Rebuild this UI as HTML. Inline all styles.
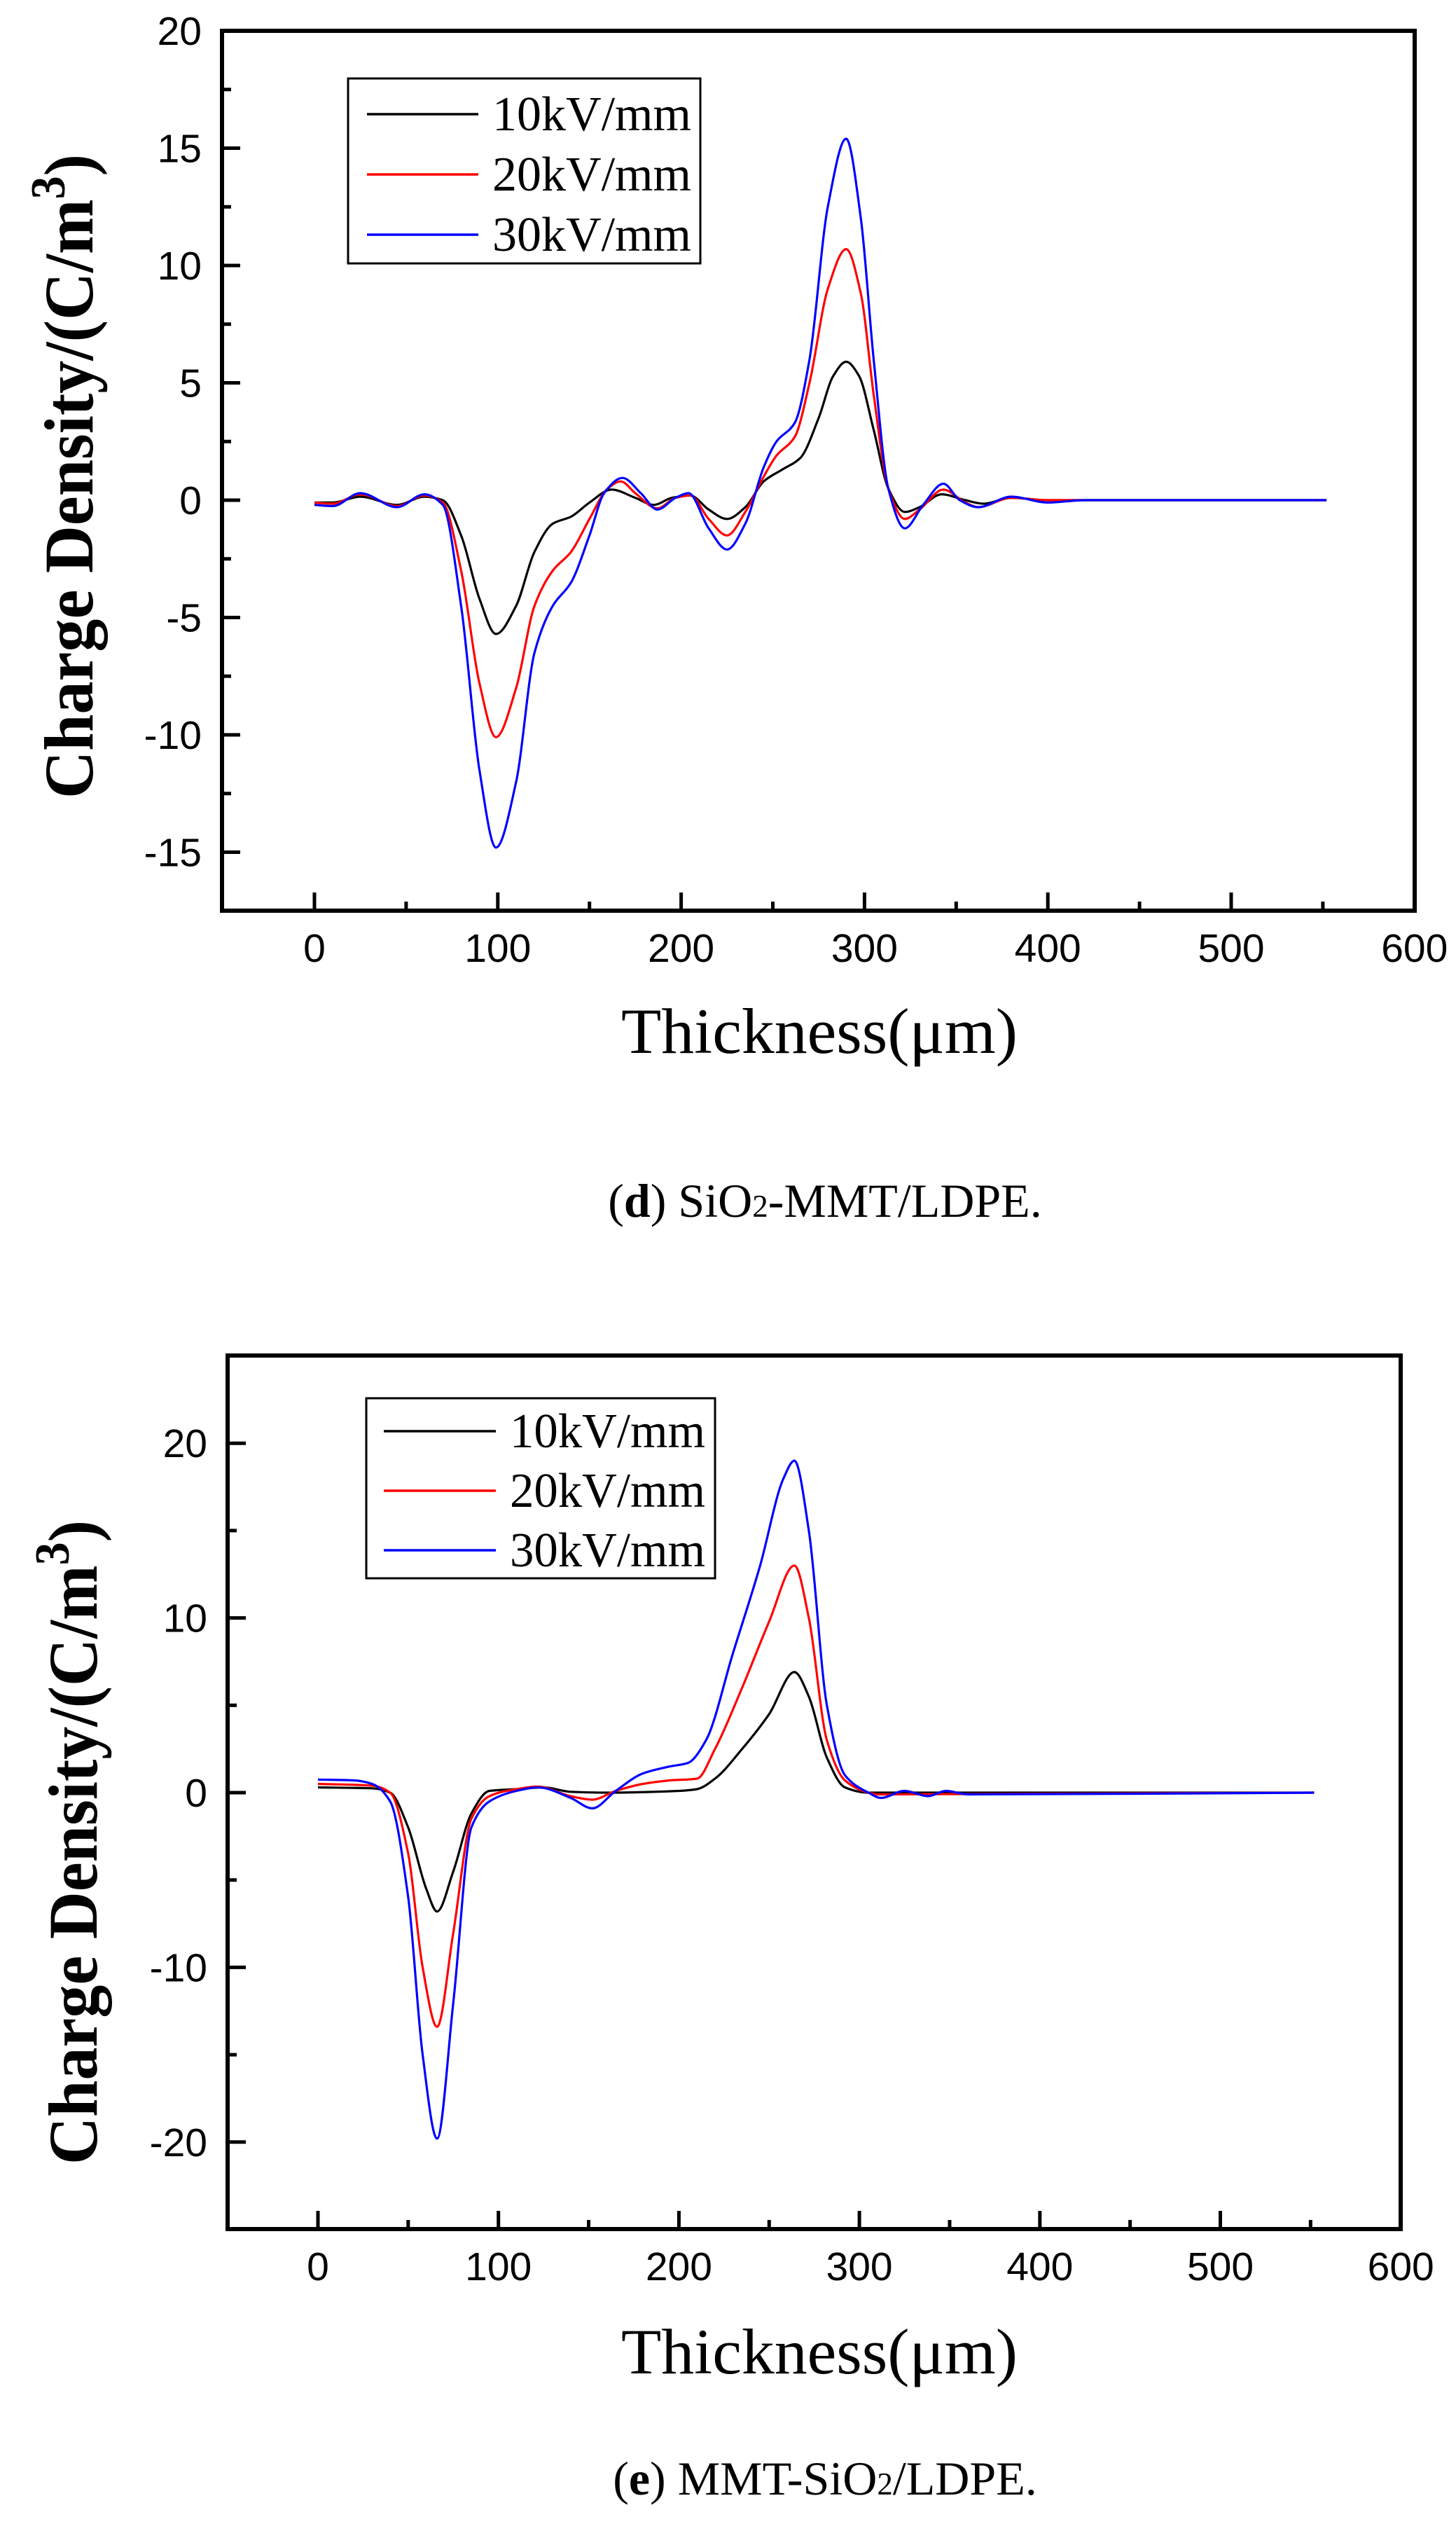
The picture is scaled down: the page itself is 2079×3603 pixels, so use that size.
<!DOCTYPE html>
<html><head><meta charset="utf-8"><style>
html,body{margin:0;padding:0;background:#fff;}
svg{display:block;}
</style></head><body>
<svg id="s" xmlns="http://www.w3.org/2000/svg" width="2079" height="3603" viewBox="0 0 2079 3603">
<rect width="2079" height="3603" fill="#fff"/>
<text transform="translate(132,680) rotate(-90)" font-family="Liberation Serif, serif" font-weight="bold" font-size="100" text-anchor="middle" textLength="920" lengthAdjust="spacingAndGlyphs">Charge Density/(C/m<tspan dy="-40" font-size="70">3</tspan><tspan dy="40">)</tspan></text>
<text transform="translate(138,2630) rotate(-90)" font-family="Liberation Serif, serif" font-weight="bold" font-size="100" text-anchor="middle" textLength="920" lengthAdjust="spacingAndGlyphs">Charge Density/(C/m<tspan dy="-40" font-size="70">3</tspan><tspan dy="40">)</tspan></text>
<text x="887" y="1503" font-family="Liberation Serif, serif" font-size="92" textLength="566" lengthAdjust="spacingAndGlyphs">Thickness(μm)</text>
<text x="887" y="3388" font-family="Liberation Serif, serif" font-size="92" textLength="566" lengthAdjust="spacingAndGlyphs">Thickness(μm)</text>
<text x="1178" y="1737" font-family="Liberation Serif, serif" font-size="68" text-anchor="middle">(<tspan font-weight="bold">d</tspan>) SiO<tspan font-size="45">2</tspan>-MMT/LDPE.</text>
<text x="1178" y="3561" font-family="Liberation Serif, serif" font-size="68" text-anchor="middle">(<tspan font-weight="bold">e</tspan>) MMT-SiO<tspan font-size="45">2</tspan>/LDPE.</text>
<g id="plots"></g>
</svg>
<script>
var NS="http://www.w3.org/2000/svg";
var g=document.getElementById("plots");
function el(n,a,t){var e=document.createElementNS(NS,n);for(var k in a)e.setAttribute(k,a[k]);if(t!==undefined)e.textContent=t;g.appendChild(e);return e;}
function mono(pts){
 var n=pts.length,dx=[],m=[],t=[];
 for(var i=0;i<n-1;i++){dx[i]=pts[i+1][0]-pts[i][0];m[i]=(pts[i+1][1]-pts[i][1])/dx[i];}
 t[0]=m[0];t[n-1]=m[n-2];
 for(var i=1;i<n-1;i++){ if(m[i-1]*m[i]<=0)t[i]=0; else {var w1=2*dx[i]+dx[i-1],w2=dx[i]+2*dx[i-1];t[i]=(w1+w2)/(w1/m[i-1]+w2/m[i]);}}
 var d="M"+pts[0][0].toFixed(1)+","+pts[0][1].toFixed(1);
 for(var i=0;i<n-1;i++){var h=dx[i]/3;
  d+=" C"+(pts[i][0]+h).toFixed(1)+","+(pts[i][1]+t[i]*h).toFixed(1)+" "+(pts[i+1][0]-h).toFixed(1)+","+(pts[i+1][1]-t[i+1]*h).toFixed(1)+" "+pts[i+1][0].toFixed(1)+","+pts[i+1][1].toFixed(1);}
 return d;
}
function plot(P){
 var X=function(v){return P.x0+v*P.px;},Y=function(v){return P.y0-v*P.py;};
 for(var v=0;v<=600;v+=50){var maj=v%100==0;el("line",{x1:X(v),x2:X(v),y1:P.bot,y2:P.bot-(maj?26:13),stroke:"#000","stroke-width":5});
  if(maj)el("text",{x:X(v),y:P.bot+73,"font-family":"Liberation Sans, Arial, sans-serif","font-size":57,"text-anchor":"middle"},String(v));}
 for(var v=P.ymin;v<=P.ymax+1e-6;v+=P.minor){var maj=Math.abs(v/P.major-Math.round(v/P.major))<1e-6;
  el("line",{x1:P.left,x2:P.left+(maj?26:13),y1:Y(v),y2:Y(v),stroke:"#000","stroke-width":5});
  if(maj)el("text",{x:P.left-29,y:Y(v)+20,"font-family":"Liberation Sans, Arial, sans-serif","font-size":57,"text-anchor":"end"},String(v));}
 P.series.forEach(function(s){var pts=s.d.map(function(p){return [X(p[0]),Y(p[1])];});
  el("path",{d:mono(pts),fill:"none",stroke:s.c,"stroke-width":3.2,"stroke-linejoin":"round"});});
 el("rect",{x:P.left,y:P.top,width:P.right-P.left,height:P.bot-P.top,fill:"none",stroke:"#000","stroke-width":6});
 var L=P.leg;el("rect",{x:L.x,y:L.y,width:L.w,height:L.h,fill:"#fff",stroke:"#000","stroke-width":3});
 ["10kV/mm","20kV/mm","30kV/mm"].forEach(function(t,i){var yy=L.ly[i];
  el("line",{x1:L.lx1,x2:L.lx2,y1:yy,y2:yy,stroke:P.series[i].c,"stroke-width":3.5});
  el("text",{x:L.tx,y:yy+23,"font-family":"Liberation Serif, serif","font-size":70,textLength:L.tw,lengthAdjust:"spacingAndGlyphs"},t);});
}
plot({x0:449,px:2.618,y0:714,py:33.5,left:317,right:2020,top:44,bot:1300,ymin:-17.5,ymax:20,minor:2.5,major:5,
 leg:{x:497,y:112,w:503,h:264,lx1:524,lx2:683,ly:[163,249,335],tx:703,tw:284},
 series:[
 {c:"#000",d:[[0,-0.1],[10,-0.1],[25,0.15],[45,-0.2],[60,0.15],[70,0],[80,-1.5],[90,-4.2],[99,-5.7],[110,-4.5],[120,-2.2],[130,-1.0],[140,-0.7],[150,-0.1],[162,0.45],[175,0.1],[185,-0.2],[195,0.1],[205,0.2],[215,-0.4],[225,-0.8],[235,-0.3],[245,0.8],[255,1.3],[265,1.8],[275,3.5],[283,5.3],[290,5.9],[297,5.3],[305,3],[313,0.5],[322,-0.5],[330,-0.3],[342,0.25],[355,0],[365,-0.15],[380,0.1],[400,0],[552,0]]},
 {c:"#f00",d:[[0,-0.1],[10,-0.15],[25,0.25],[45,-0.25],[60,0.2],[70,-0.1],[80,-3],[90,-7.8],[99,-10.1],[110,-8],[120,-4.5],[130,-3],[140,-2.2],[150,-0.8],[160,0.5],[167,0.8],[175,0.3],[187,-0.35],[197,0.1],[205,0.2],[215,-0.8],[225,-1.5],[235,-0.5],[245,1],[252,1.9],[262,2.7],[270,5],[280,9],[290,10.7],[298,8.8],[305,4.5],[313,0.5],[322,-0.8],[330,-0.4],[343,0.45],[355,-0.1],[362,-0.3],[380,0.1],[400,0],[552,0]]},
 {c:"#00f",d:[[0,-0.2],[10,-0.25],[25,0.3],[45,-0.3],[60,0.25],[70,-0.2],[80,-4.5],[90,-11.5],[99,-14.8],[110,-12],[120,-6.5],[130,-4.5],[140,-3.5],[150,-1.5],[158,0.3],[168,0.95],[178,0.3],[187,-0.4],[197,0.1],[204,0.3],[215,-1.2],[225,-2.1],[235,-1],[245,1.4],[252,2.5],[262,3.3],[270,6],[280,12.5],[290,15.4],[298,12],[305,6],[313,0.5],[322,-1.2],[332,-0.2],[343,0.7],[352,0],[362,-0.3],[380,0.15],[400,-0.1],[420,0],[552,0]]}
 ]});
plot({x0:454,px:2.577,y0:2559,py:24.94,left:325,right:2000,top:1935,bot:3182,ymin:-25,ymax:25,minor:5,major:10,
 leg:{x:523,y:1996,w:498,h:257,lx1:548,lx2:708,ly:[2043,2128,2213],tx:728,tw:279},
 series:[
 {c:"#000",d:[[0,0.3],[30,0.25],[40,0],[50,-2],[60,-5.5],[66,-6.8],[75,-4.5],[85,-1.2],[95,0.1],[110,0.2],[125,0.3],[140,0.05],[160,0],[200,0.1],[210,0.2],[220,0.8],[235,2.5],[250,4.5],[264,6.9],[272,5.5],[282,2],[292,0.3],[305,0],[552,0]]},
 {c:"#f00",d:[[0,0.5],[30,0.4],[40,0],[50,-3.5],[58,-10],[66,-13.4],[75,-8],[85,-1.5],[95,-0.2],[110,0.2],[122,0.35],[140,-0.2],[152,-0.4],[165,0.1],[180,0.5],[195,0.7],[210,0.8],[220,2.5],[235,6],[250,9.8],[264,13],[272,10],[282,3],[292,0.7],[305,0],[310,-0.1],[552,0]]},
 {c:"#00f",d:[[0,0.75],[20,0.7],[30,0.5],[40,-0.5],[50,-6],[58,-15],[66,-19.8],[75,-12],[85,-2],[95,-0.5],[110,0.1],[122,0.3],[140,-0.3],[152,-0.9],[165,0.1],[180,1.1],[195,1.5],[205,1.7],[215,3],[230,8],[245,13],[258,18],[264,19],[272,15],[282,5],[292,1],[305,0],[312,-0.3],[325,0.1],[338,-0.2],[348,0.1],[360,-0.1],[552,0]]}
 ]});
</script>
</body></html>
